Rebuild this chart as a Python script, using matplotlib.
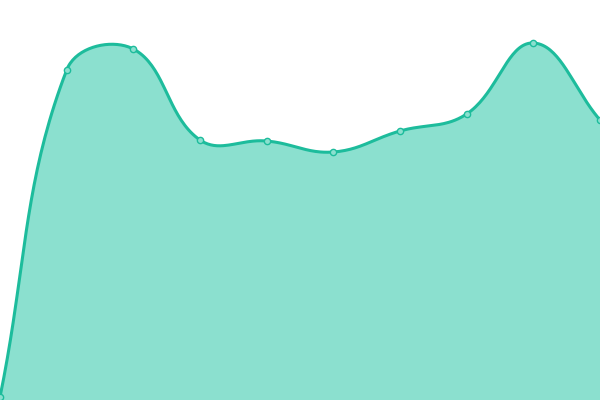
import numpy as np
import matplotlib.pyplot as plt

# --- data ---
x_idx = [0, 1, 2, 3, 4, 5, 6, 7, 8, 9]
values = [3, 330, 351, 260, 259, 248, 269, 286, 357, 280]

LINE = '#1dbc9c'
FILL = '#8be0cf'
TENSION = 0.4


def smooth_curve(xs, ys, tension=TENSION, n=40):
    # bezier smoothing, control points split by neighbour distance
    # (done in pixel-like units so x and y are weighted evenly)
    sxf = 600 / (len(xs) - 1)
    pts = np.column_stack([np.asarray(xs, float) * sxf, np.asarray(ys, float)])
    k = len(pts)
    cp_in = pts.copy()
    cp_out = pts.copy()
    for i in range(k):
        prev = pts[max(i - 1, 0)]
        nxt = pts[min(i + 1, k - 1)]
        d01 = np.hypot(*(pts[i] - prev))
        d12 = np.hypot(*(nxt - pts[i]))
        tot = d01 + d12
        s01 = d01 / tot
        s12 = d12 / tot
        cp_in[i] = pts[i] - tension * s01 * (nxt - prev)
        cp_out[i] = pts[i] + tension * s12 * (nxt - prev)
    cp_in[:, 1] = np.clip(cp_in[:, 1], 0, 400)
    cp_out[:, 1] = np.clip(cp_out[:, 1], 0, 400)
    t = np.linspace(0, 1, n)[:, None]
    segs = []
    for i in range(k - 1):
        a, b, c, d = pts[i], cp_out[i], cp_in[i + 1], pts[i + 1]
        segs.append((1 - t) ** 3 * a + 3 * (1 - t) ** 2 * t * b
                    + 3 * (1 - t) * t ** 2 * c + t ** 3 * d)
    curve = np.vstack(segs)
    return curve[:, 0] / sxf, curve[:, 1]


sx, sy = smooth_curve(x_idx, values)

fig = plt.figure(figsize=(6, 4), dpi=100)
ax = fig.add_axes([0, 0, 1, 1])
ax.fill_between(sx, sy, 0, color=FILL, linewidth=0)
ax.plot(sx, sy, color=LINE, linewidth=2.2, solid_capstyle='round')
ax.plot(x_idx, values, 'o', markersize=4.5, markerfacecolor=FILL,
        markeredgecolor=LINE, markeredgewidth=1)
ax.set_xlim(0, 9)
ax.set_ylim(0, 400)
ax.axis('off')
fig.savefig('out.png', dpi=100)
